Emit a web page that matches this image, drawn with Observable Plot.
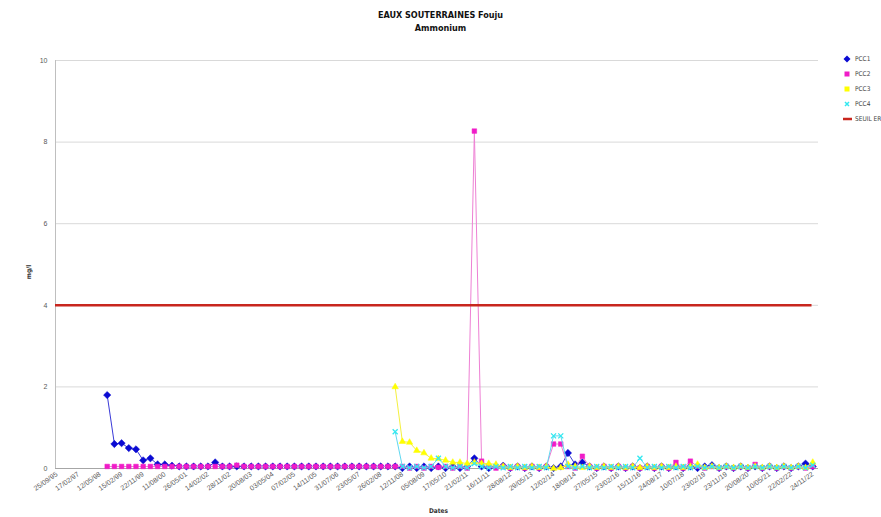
<!DOCTYPE html>
<html><head><meta charset="utf-8">
<script src="https://cdn.jsdelivr.net/npm/d3@7"></script>
<script src="https://cdn.jsdelivr.net/npm/@observablehq/plot@0.6"></script>
<style>
body{margin:0;background:#fff;}
#wrap{position:relative;width:881px;height:517px;font-family:"Liberation Sans Narrow","DejaVu Sans Condensed","Liberation Sans",sans-serif;}
#chart{position:absolute;left:0;top:0;}
#title{position:absolute;left:0;width:881px;top:9px;text-align:center;font-weight:bold;font-size:9px;line-height:13px;color:#111;}
.lab{position:absolute;font-size:6.5px;font-weight:bold;color:#333;white-space:nowrap;}
#legend{position:absolute;left:842px;top:0;}
.li{position:absolute;left:0;height:10px;width:50px;font-size:6.5px;color:#444;white-space:nowrap;}
.li svg{position:absolute;left:0;top:0;}
.li span{position:absolute;left:13px;top:1px;line-height:8px;}
#chart text{fill:#595959;}
</style></head>
<body>
<div id="wrap">
  <div id="chart"></div>
  <div id="title">EAUX SOUTERRAINES Fouju<br>Ammonium</div>
  <div class="lab" style="left:22px;top:268px;transform:rotate(-90deg);">mg/l</div>
  <div class="lab" style="left:429px;top:507px;">Dates</div>
  <div id="legend"></div>
</div>
<script>
// Tick labels (one every 3 sampling dates)
const tickLabels = ["25/09/95","17/02/97","12/05/98","15/02/99","22/11/99","11/08/00","26/05/01","14/02/02","28/11/02","20/08/03","03/05/04","07/02/05","14/11/05","31/07/06","23/05/07","26/02/08","12/11/08","05/08/09","17/05/10","21/02/11","16/11/11","28/08/12","29/05/13","12/02/14","18/08/14","27/05/15","23/02/16","15/11/16","24/08/17","10/07/18","23/02/19","23/11/19","20/08/20","10/05/21","22/02/22","24/11/22"];

const seriesNames = ["PCC1","PCC2","PCC3","PCC4"];

// Values per sampling date index (0..105), mg/l
const pcc1 = [
 null,null,null,null,null,null,null,1.8,0.6,0.62,
 0.5,0.47,0.2,0.25,0.1,0.1,0.07,0.05,0.05,0.05,
 0.05,0.05,0.15,0.05,0.05,0.05,0.05,0.05,0.05,0.05,
 0.05,0.05,0.05,0.05,0.05,0.05,0.05,0.05,0.05,0.05,
 0.05,0.05,0.05,0.05,0.05,0.05,0.05,0.05,0.01,0.05,
 0.01,0.05,0.01,0.05,0.01,0.05,0.01,0.05,0.25,0.05,
 0.01,0.05,0.07,0.01,0.05,0.01,0.05,0.01,0.05,0.01,
 0.05,0.38,0.1,0.15,0.05,0.01,0.05,0.01,0.05,0.01,
 0.05,0.01,0.05,0.01,0.05,0.01,0.05,0.01,0.05,0.01,
 0.05,0.08,0.01,0.05,0.01,0.05,0.01,0.05,0.01,0.05,
 0.01,0.05,0.01,0.05,0.12,0.05
];
const pcc2 = [
 null,null,null,null,null,null,null,0.05,0.05,0.05,
 0.05,0.05,0.05,0.05,0.05,0.05,0.05,0.05,0.05,0.05,
 0.05,0.05,0.05,0.05,0.05,0.08,0.05,0.05,0.05,0.05,
 0.05,0.05,0.05,0.05,0.05,0.05,0.05,0.05,0.05,0.05,
 0.05,0.05,0.05,0.05,0.05,0.05,0.05,0.05,0.05,0.01,
 0.05,0.01,0.05,0.03,0.05,0.01,0.05,0.01,8.27,0.18,
 0.05,0.01,0.05,0.01,0.05,0.01,0.05,0.01,0.05,0.6,
 0.6,0.05,0.01,0.3,0.05,0.01,0.05,0.01,0.05,0.01,
 0.05,0.01,0.05,0.01,0.05,0.01,0.15,0.01,0.18,0.05,
 0.01,0.05,0.01,0.05,0.01,0.05,0.01,0.1,0.01,0.05,
 0.01,0.05,0.01,0.05,0.01,0.05
];
const pcc3 = [
 null,null,null,null,null,null,null,null,null,null,
 null,null,null,null,null,null,null,null,null,null,
 null,null,null,null,null,null,null,null,null,null,
 null,null,null,null,null,null,null,null,null,null,
 null,null,null,null,null,null,null,2.0,0.66,0.64,
 0.44,0.38,0.25,0.24,0.2,0.15,0.15,0.12,0.15,0.12,
 0.12,0.1,0.05,0.02,0.05,0.02,0.05,0.02,0.05,0.0,
 0.02,0.1,0.05,0.02,0.05,0.02,0.05,0.02,0.05,0.02,
 0.05,0.02,0.05,0.02,0.05,0.02,0.05,0.02,0.05,0.1,
 0.02,0.05,0.02,0.05,0.02,0.05,0.02,0.05,0.02,0.05,
 0.02,0.05,0.02,0.05,0.02,0.15
];
const pcc4 = [
 null,null,null,null,null,null,null,null,null,null,
 null,null,null,null,null,null,null,null,null,null,
 null,null,null,null,null,null,null,null,null,null,
 null,null,null,null,null,null,null,null,null,null,
 null,null,null,null,null,null,null,0.9,0.05,0.02,
 0.05,0.02,0.05,0.25,0.05,0.02,0.05,0.02,0.12,0.05,
 0.02,0.05,0.02,0.05,0.02,0.05,0.02,0.05,0.02,0.8,
 0.8,0.05,0.02,0.05,0.02,0.05,0.02,0.05,0.02,0.05,
 0.02,0.25,0.02,0.05,0.02,0.05,0.02,0.05,0.02,0.05,
 0.02,0.05,0.02,0.05,0.02,0.05,0.02,0.05,0.02,0.05,
 0.02,0.05,0.02,0.05,0.02,0.08
];
const seuilER = 4;

const colors = {PCC1:"#0a0ad2", PCC2:"#f01cc8", PCC3:"#ffff00", PCC4:"#33e8f0"};
const lineColors = {PCC1:"#3a3ad8", PCC2:"#ee80d4", PCC3:"#f4f040", PCC4:"#60d8f0"};
const seuilColor = "#c8261e";

const allValues = [pcc1, pcc2, pcc3, pcc4];
const rows = seriesNames.map((s, i) =>
  allValues[i].map((v, k) => ({k, v, s})).filter(d => d.v != null));

const xDomain = [-0.18, 105.8];
const marks = [
  Plot.ruleY([2, 4, 6, 8, 10], {stroke: "#d9d9d9", strokeWidth: 1}),
  Plot.ruleX([xDomain[0]], {y1: 0, y2: 10, stroke: "#bfbfbf"}),
  Plot.ruleY([0], {stroke: "#a6a6a6"}),
  Plot.axisY({ticks: [0, 2, 4, 6, 8, 10], tickSize: 0, tickPadding: 8, fontSize: 7, label: null}),
  Plot.axisX({ticks: tickLabels.map((_, i) => i * 3), tickFormat: k => tickLabels[k / 3],
    tickRotate: -35, tickSize: 0, tickPadding: 5, fontSize: 7, label: null})
];
const symbols = {PCC1: "diamond2", PCC2: "square", PCC3: "triangle", PCC4: "times"};
const radii = {PCC1: 3.3, PCC2: 2.6, PCC3: 2.4, PCC4: 2.4};
seriesNames.forEach((s, i) => {
  marks.push(Plot.line(rows[i], {x: "k", y: "v", stroke: lineColors[s], strokeWidth: 1}));
  marks.push(Plot.dot(rows[i], {x: "k", y: "v", symbol: () => symbols[s], r: radii[s],
    fill: s === "PCC4" ? "none" : colors[s], stroke: colors[s], strokeWidth: s === "PCC4" ? 1.3 : 0.5}));
});
marks.push(Plot.ruleY([seuilER], {x1: xDomain[0], x2: 104.9, stroke: seuilColor, strokeWidth: 2.5}));

const chart = Plot.plot({
  width: 881, height: 517,
  marginLeft: 55, marginRight: 63, marginTop: 60, marginBottom: 49,
  x: {type: "linear", domain: xDomain},
  y: {domain: [0, 10]},
  symbol: {type: "identity"},
  style: {fontFamily: '"Liberation Sans","DejaVu Sans",sans-serif', background: "#fff"},
  marks
});
document.getElementById("chart").appendChild(chart);

// Legend
const legend = document.getElementById("legend");
const legendItems = [...seriesNames, "SEUIL ER"];
legendItems.forEach((name, i) => {
  const div = document.createElement("div");
  div.className = "li";
  div.style.top = (54 + i * 15) + "px";
  let sym = "";
  if (name === "PCC1") sym = `<path d="M5,1.5L8.5,5L5,8.5L1.5,5Z" fill="${colors.PCC1}"/>`;
  else if (name === "PCC2") sym = `<rect x="2.5" y="2.5" width="5" height="5" fill="${colors.PCC2}"/>`;
  else if (name === "PCC3") sym = `<rect x="2.5" y="2.5" width="5" height="5" fill="${colors.PCC3}"/>`;
  else if (name === "PCC4") sym = `<path d="M3,3L7,7M7,3L3,7" stroke="${colors.PCC4}" stroke-width="1.5"/>`;
  else sym = `<line x1="1" y1="5" x2="10" y2="5" stroke="${seuilColor}" stroke-width="2.5"/>`;
  div.innerHTML = `<svg width="11" height="10">${sym}</svg><span>${name}</span>`;
  legend.appendChild(div);
});
</script>
</body></html>
